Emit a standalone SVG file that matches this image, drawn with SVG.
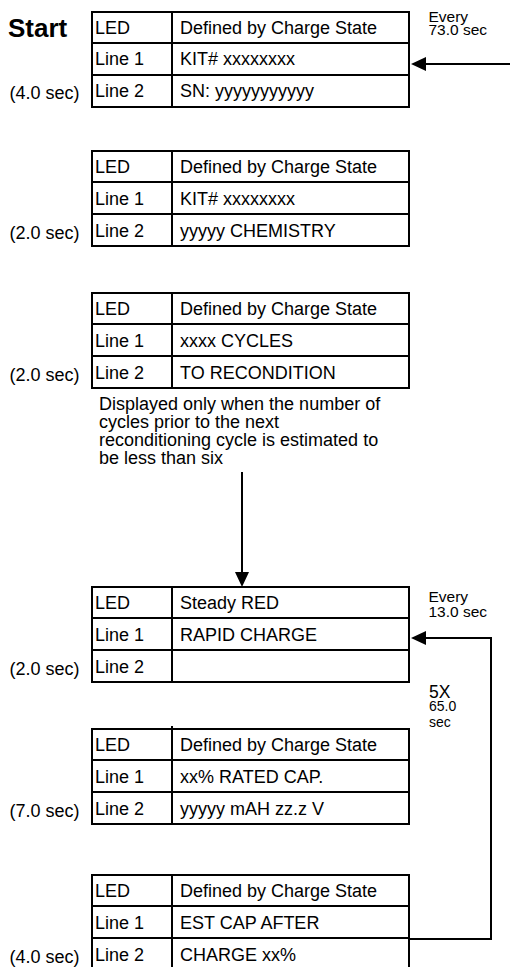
<svg xmlns="http://www.w3.org/2000/svg" width="510" height="967" viewBox="0 0 510 967">
  <defs>
    <style>
      .grid { fill: none; stroke: #000; stroke-width: 2; }
      .t { font-family: "Liberation Sans", Arial, sans-serif; font-size: 18px; fill: #000; }
      .small { font-family: "Liberation Sans", Arial, sans-serif; font-size: 15.5px; fill: #000; }
      .tiny { font-family: "Liberation Sans", Arial, sans-serif; font-size: 14px; fill: #000; }
      .big { font-family: "Liberation Sans", Arial, sans-serif; font-size: 17.5px; fill: #000; }
      .start { font-family: "Liberation Sans", Arial, sans-serif; font-size: 26px; font-weight: bold; fill: #000; }
      .wire { fill: none; stroke: #000; stroke-width: 2; }
    </style>
    <!-- display table: 3 rows x 2 columns, 317 wide, 32 per row -->
    <g id="table">
      <rect class="grid" x="92" y="0" width="317" height="95"/>
      <line class="grid" x1="92" y1="31" x2="409" y2="31"/>
      <line class="grid" x1="92" y1="63" x2="409" y2="63"/>
      <line class="grid" x1="172" y1="0" x2="172" y2="95"/>
    </g>
    <marker id="head" viewBox="0 0 15 14" refX="0" refY="7" markerWidth="15" markerHeight="14" markerUnits="userSpaceOnUse" orient="auto">
      <path d="M0,0 L15,7 L0,14 z" fill="#000"/>
    </marker>
  </defs>

  <rect width="510" height="967" fill="#fff"/>

  <text class="start" x="8" y="37">Start</text>

  <!-- screen 1 -->
  <g id="screen1">
    <use href="#table" y="12"/>
    <text class="t" x="95" y="33.5">LED</text>
    <text class="t" x="180" y="33.5">Defined by Charge State</text>
    <text class="t" x="95" y="65">Line 1</text>
    <text class="t" x="180" y="65">KIT# xxxxxxxx</text>
    <text class="t" x="95" y="97">Line 2</text>
    <text class="t" x="180" y="97">SN: yyyyyyyyyyy</text>
    <text class="t" x="9.5" y="99">(4.0 sec)</text>
  </g>

  <!-- screen 2 -->
  <g id="screen2">
    <use href="#table" y="151"/>
    <text class="t" x="95" y="172.5">LED</text>
    <text class="t" x="180" y="172.5">Defined by Charge State</text>
    <text class="t" x="95" y="204.5">Line 1</text>
    <text class="t" x="180" y="204.5">KIT# xxxxxxxx</text>
    <text class="t" x="95" y="236.5">Line 2</text>
    <text class="t" x="180" y="236.5">yyyyy CHEMISTRY</text>
    <text class="t" x="9.5" y="238.5">(2.0 sec)</text>
  </g>

  <!-- screen 3 -->
  <g id="screen3">
    <use href="#table" y="293"/>
    <text class="t" x="95" y="314.5">LED</text>
    <text class="t" x="180" y="314.5">Defined by Charge State</text>
    <text class="t" x="95" y="346.5">Line 1</text>
    <text class="t" x="180" y="346.5">xxxx CYCLES</text>
    <text class="t" x="95" y="378.5">Line 2</text>
    <text class="t" x="180" y="378.5">TO RECONDITION</text>
    <text class="t" x="9.5" y="380.5">(2.0 sec)</text>
    <text class="t" x="99">
      <tspan x="99" y="410">Displayed only when the number of</tspan>
      <tspan x="99" y="428">cycles prior to the next</tspan>
      <tspan x="99" y="446">reconditioning cycle is estimated to</tspan>
      <tspan x="99" y="464">be less than six</tspan>
    </text>
  </g>

  <!-- screen 4 -->
  <g id="screen4">
    <use href="#table" y="587"/>
    <text class="t" x="95" y="608.5">LED</text>
    <text class="t" x="180" y="608.5">Steady RED</text>
    <text class="t" x="95" y="640.5">Line 1</text>
    <text class="t" x="180" y="640.5">RAPID CHARGE</text>
    <text class="t" x="95" y="672.5">Line 2</text>
    <text class="t" x="9.5" y="674.5">(2.0 sec)</text>
  </g>

  <!-- screen 5 -->
  <g id="screen5">
    <line class="grid" x1="172" y1="726" x2="172" y2="729"/>
    <use href="#table" y="729"/>
    <text class="t" x="95" y="750.5">LED</text>
    <text class="t" x="180" y="750.5">Defined by Charge State</text>
    <text class="t" x="95" y="782.5">Line 1</text>
    <text class="t" x="180" y="782.5">xx% RATED CAP.</text>
    <text class="t" x="95" y="814.5">Line 2</text>
    <text class="t" x="180" y="814.5">yyyyy mAH zz.z V</text>
    <text class="t" x="9.5" y="816.5">(7.0 sec)</text>
  </g>

  <!-- screen 6 -->
  <g id="screen6">
    <use href="#table" y="875"/>
    <text class="t" x="95" y="896.5">LED</text>
    <text class="t" x="180" y="896.5">Defined by Charge State</text>
    <text class="t" x="95" y="928.5">Line 1</text>
    <text class="t" x="180" y="928.5">EST CAP AFTER</text>
    <text class="t" x="95" y="960.5">Line 2</text>
    <text class="t" x="180" y="960.5">CHARGE xx%</text>
    <text class="t" x="9.5" y="962.5">(4.0 sec)</text>
  </g>

  <!-- flow lines -->
  <g id="connectors">
    <line class="wire" x1="510" y1="64" x2="426" y2="64" marker-end="url(#head)"/>
    <line class="wire" x1="242" y1="472" x2="242" y2="572" marker-end="url(#head)"/>
    <polyline class="wire" points="409,939 491,939 491,638 426,638" marker-end="url(#head)"/>
  </g>

  <!-- timing notes -->
  <g id="timing">
    <text class="small" x="428.5" y="21.5">Every</text>
    <text class="small" x="428.5" y="34.5">73.0 sec</text>
    <text class="small" x="428.5" y="602">Every</text>
    <text class="small" x="428.5" y="616.5">13.0 sec</text>
    <text class="big" x="429" y="698">5X</text>
    <text class="tiny" x="429" y="711">65.0</text>
    <text class="tiny" x="429" y="727">sec</text>
  </g>
</svg>
